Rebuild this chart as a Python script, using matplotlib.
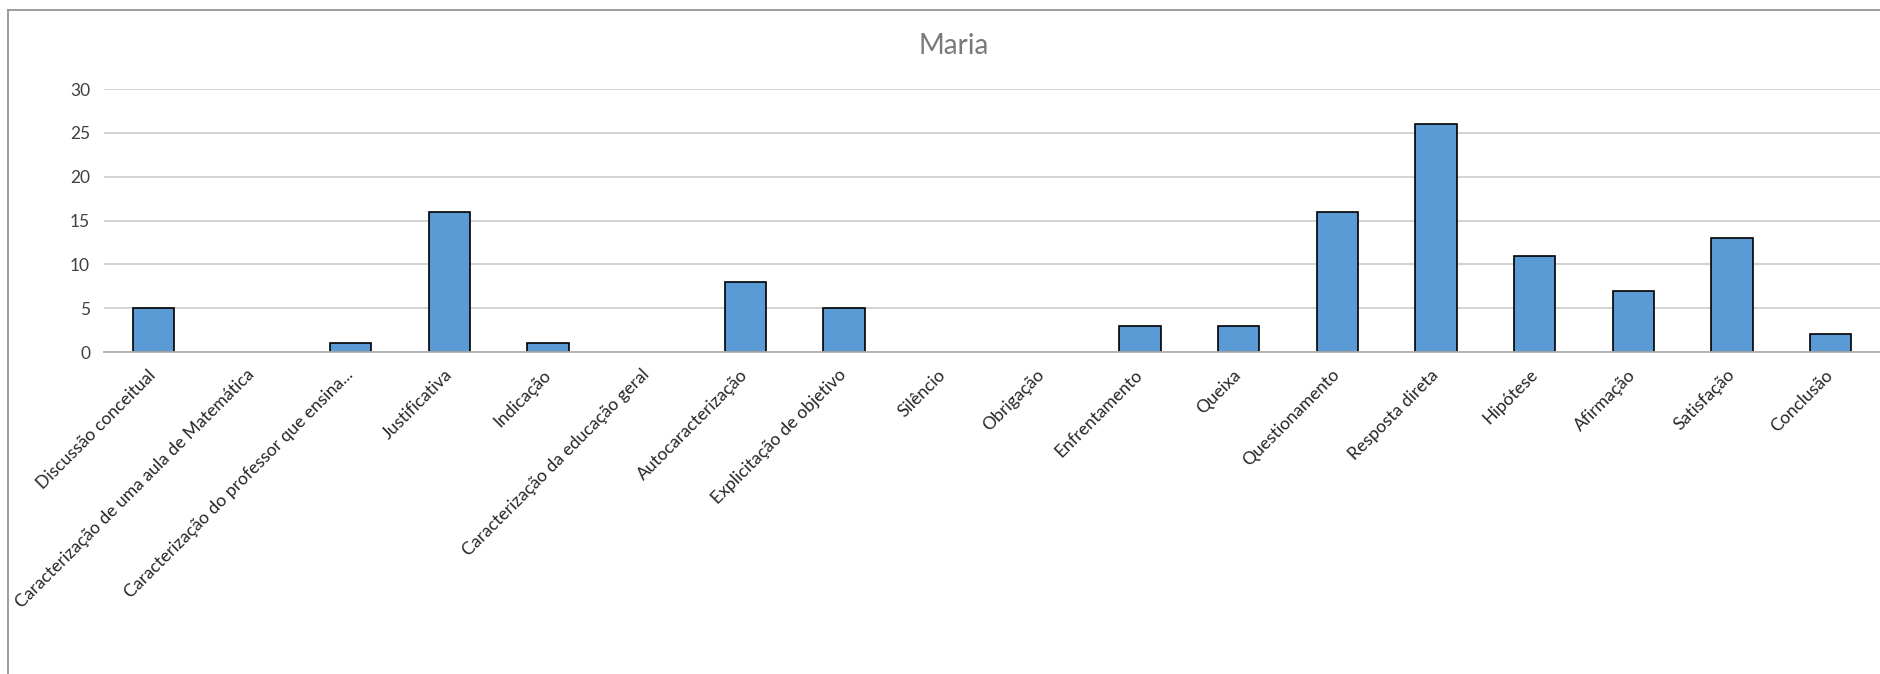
import matplotlib
matplotlib.use("Agg")
import matplotlib.pyplot as plt
from matplotlib.lines import Line2D
from matplotlib.transforms import ScaledTranslation
import numpy as np

plt.rcParams['font.family'] = ['Lato', 'DejaVu Sans']

categories = [
    "Discussão conceitual",
    "Caracterização de uma aula de Matemática",
    "Caracterização do professor que ensina...",
    "Justificativa",
    "Indicação",
    "Caracterização da educação geral",
    "Autocaracterização",
    "Explicitação de objetivo",
    "Silêncio",
    "Obrigação",
    "Enfrentamento",
    "Queixa",
    "Questionamento",
    "Resposta direta",
    "Hipótese",
    "Afirmação",
    "Satisfação",
    "Conclusão",
]
values = [5, 0, 1, 16, 1, 0, 8, 5, 0, 0, 3, 3, 16, 26, 11, 7, 13, 2]
y_ticks = [0, 5, 10, 15, 20, 25, 30]
title = "Maria"

W, H = 1881, 674
fig = plt.figure(figsize=(W / 100, H / 100), dpi=100)
fig.patch.set_facecolor("white")

# chart frame: only its left and top edges fall inside the canvas
fx, fy = 8 / W, 1 - 10 / H
fig.add_artist(Line2D([fx, fx], [0, fy], transform=fig.transFigure,
                      color="#8c8c8c", lw=1.2))
fig.add_artist(Line2D([fx, 1], [fy, fy], transform=fig.transFigure,
                      color="#8c8c8c", lw=1.2))

left, right = 104 / W, 1880 / W
bottom, top = 1 - 352 / H, 1 - 89 / H
ax = fig.add_axes([left, bottom, right - left, top - bottom])

x = np.arange(len(categories))
edges = ["black" if v > 0 else "none" for v in values]
ax.bar(x, values, width=0.42, color="#5b9bd5", edgecolor=edges,
       linewidth=1.2, zorder=3)

ax.set_xlim(-0.5, len(categories) - 0.5)
ax.set_ylim(0, 30)
ax.set_yticks(y_ticks)
ax.yaxis.grid(True, color="#d0d0d0", linewidth=1.3, zorder=0)
ax.set_axisbelow(True)

for s in ["top", "right", "left"]:
    ax.spines[s].set_visible(False)
ax.spines["bottom"].set_color("#b0b0b0")
ax.spines["bottom"].set_linewidth(1.3)
ax.spines["bottom"].set_zorder(4)

ax.tick_params(axis="y", length=0, pad=10, labelsize=12.5, labelcolor="#404040")
ax.tick_params(axis="x", length=0, pad=6)

ax.set_xticks(x)
ax.set_xticklabels(categories, rotation=45, ha="right", va="center",
                   rotation_mode="anchor", fontsize=12.6, color="#262626")
offset = ScaledTranslation(0 / 100, -12 / 100, fig.dpi_scale_trans)
for lbl in ax.get_xticklabels():
    lbl.set_transform(lbl.get_transform() + offset)

fig.text(954 / W, 1 - 46 / H, title, ha="center", va="center",
         fontsize=20, color="#7a7a7a")

fig.savefig("out.png", dpi=100, facecolor="white")
